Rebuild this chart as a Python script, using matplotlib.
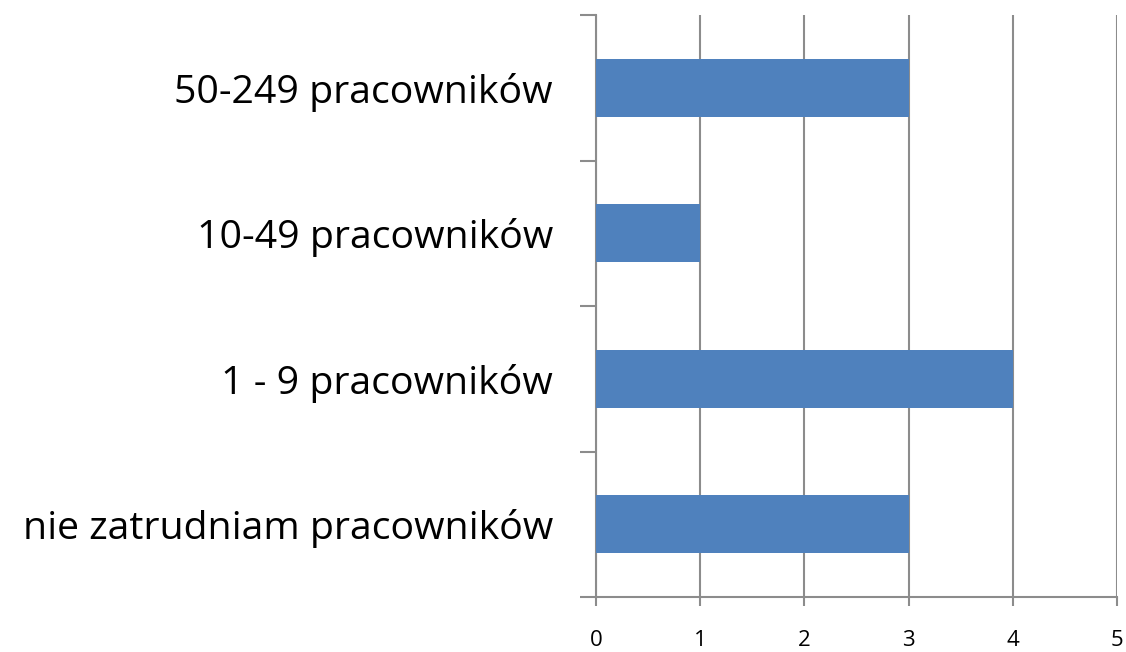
import matplotlib.pyplot as plt
import numpy as np

categories = ['nie zatrudniam pracowników', '1 - 9 pracowników',
              '10-49 pracowników', '50-249 pracowników']
values = [3, 4, 1, 3]
xticks = [0, 1, 2, 3, 4, 5]

grey = '#8c8c8c'

fig = plt.figure(figsize=(11.26, 6.52), dpi=100)
ax = fig.add_axes([596/1126, 55/652, (1117-596)/1126, (597-15)/652])

y = np.arange(len(categories))
ax.barh(y, values, height=0.4, color='#4f81bd', zorder=3)

ax.set_xlim(0, 5)
ax.set_ylim(-0.5, len(categories) - 0.5)
ax.set_xticks(xticks)
ax.set_xticklabels([str(t) for t in xticks], fontsize=16, family='Open Sans')
ax.set_yticks(y)
ax.set_yticklabels(categories, fontsize=28.3, family='Open Sans')
ax.tick_params(axis='y', length=0, pad=31)
ax.tick_params(axis='x', length=6.5, color=grey, width=1.5, pad=17)

# category boundary ticks on the left
ax.set_yticks(np.arange(-0.5, len(categories)), minor=True)
ax.tick_params(axis='y', which='minor', length=11.5, color=grey, width=1.5)

ax.grid(axis='x', color=grey, linewidth=1.5, zorder=0)
for s in ['top', 'right']:
    ax.spines[s].set_visible(False)
for s in ['left', 'bottom']:
    ax.spines[s].set_color(grey)
    ax.spines[s].set_linewidth(1.5)

fig.savefig('out.png', dpi=100)
